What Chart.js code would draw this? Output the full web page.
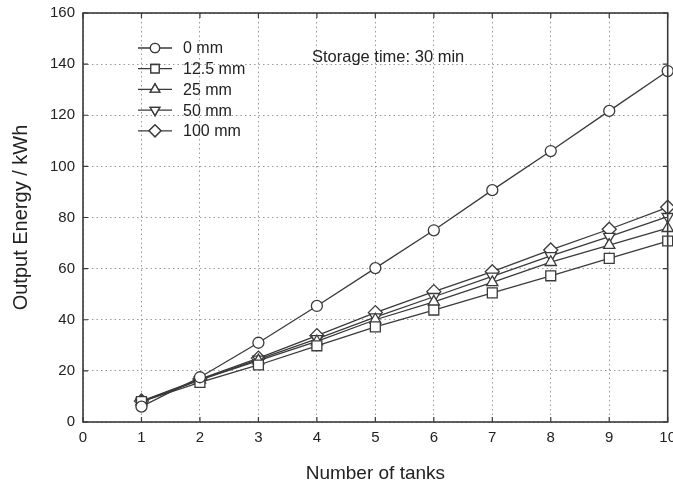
<!DOCTYPE html>
<html>
<head>
<meta charset="utf-8">
<script src="https://cdn.jsdelivr.net/npm/chart.js"></script>
<style>
  html, body { margin: 0; padding: 0; background: #fff; overflow: hidden; }
  /* canvas is a little wider than the frame so the "10" label runs off the edge, as in the original */
  #wrap { width: 673px; height: 487px; overflow: hidden; }
</style>
</head>
<body>
<div id="wrap"><canvas id="energy-chart" width="676" height="487"></canvas></div>
<script>
// ── data ──
const tanks = [1, 2, 3, 4, 5, 6, 7, 8, 9, 10];
const mm0 = [6, 17.5, 31, 45.4, 60.2, 75, 90.7, 106, 121.7, 137.3];
const mm12_5 = [8, 15.5, 22.3, 29.8, 37.2, 43.8, 50.5, 57.2, 64, 70.8];
const mm25 = [8, 16.5, 24, 31.5, 40, 47, 54.6, 62.5, 69.2, 75.8];
const mm50 = [8, 16.5, 24.5, 32.5, 41, 49, 57, 65, 72.5, 80.3];
const mm100 = [8.2, 16.8, 25, 33.8, 42.8, 51, 58.8, 67.3, 75.4, 84];

const seriesLabels = ['0 mm', '12.5 mm', '25 mm', '50 mm', '100 mm'];
const seriesValues = [mm0, mm12_5, mm25, mm50, mm100];
const markers = [
  { style: 'circle', rot: 0, r: 5.5 },
  { style: 'rect', rot: 0, r: 7 },
  { style: 'triangle', rot: 0, r: 6.5 },
  { style: 'triangle', rot: 180, r: 6.5 },
  { style: 'rectRot', rot: 0, r: 7 }
];
const note = 'Storage time: 30 min';

const INK = '#3a3a3a';
const FONT = '"Liberation Sans", Arial, sans-serif';

const datasets = seriesValues.map((vals, i) => ({
  label: seriesLabels[i],
  data: tanks.map((t, j) => ({ x: t, y: vals[j] })),
  borderColor: INK,
  borderWidth: 1.3,
  backgroundColor: '#fff',
  pointStyle: markers[i].style,
  rotation: markers[i].rot,
  pointRadius: markers[i].r,
  pointBorderWidth: 1.3,
  pointBorderColor: INK,
  pointBackgroundColor: '#fff',
  showLine: true,
  tension: 0,
  clip: false
}));

// frame on all four sides + inward tick marks
const framePlugin = {
  id: 'frame',
  afterDraw(chart) {
    const { ctx, chartArea: a, scales } = chart;
    ctx.save();
    ctx.strokeStyle = INK;
    ctx.lineWidth = 1.2;
    for (let v = 0; v <= 10; v++) {
      const x = scales.x.getPixelForValue(v);
      ctx.beginPath();
      ctx.moveTo(x, a.bottom); ctx.lineTo(x, a.bottom - 5);
      ctx.moveTo(x, a.top); ctx.lineTo(x, a.top + 5);
      ctx.stroke();
    }
    for (let v = 0; v <= 160; v += 20) {
      const y = scales.y.getPixelForValue(v);
      ctx.beginPath();
      ctx.moveTo(a.left, y); ctx.lineTo(a.left + 5, y);
      ctx.moveTo(a.right, y); ctx.lineTo(a.right - 5, y);
      ctx.stroke();
    }
    ctx.lineWidth = 1.6;
    ctx.strokeRect(a.left, a.top, a.right - a.left, a.bottom - a.top);
    ctx.restore();
  }
};

// legend in the upper left of the plot, plus the note
const legendPlugin = {
  id: 'insideLegend',
  afterDraw(chart) {
    const { ctx } = chart;
    ctx.save();
    ctx.font = '16px ' + FONT;
    ctx.textBaseline = 'middle';
    chart.data.datasets.forEach((ds, i) => {
      const y = 48 + i * 20.7;
      ctx.strokeStyle = INK;
      ctx.lineWidth = 1.3;
      ctx.beginPath();
      ctx.moveTo(138, y); ctx.lineTo(172, y);
      ctx.stroke();
      ctx.fillStyle = '#fff';
      Chart.helpers.drawPoint(ctx, {
        pointStyle: ds.pointStyle,
        rotation: ds.rotation,
        radius: ds.pointRadius * 0.85,
        borderWidth: 1.3
      }, 155, y);
      ctx.fill();
      ctx.stroke();
      ctx.fillStyle = '#222';
      ctx.fillText(ds.label, 183, y + 1);
    });
    ctx.font = '16.5px ' + FONT;
    ctx.fillText(note, 312, 57);
    ctx.restore();
  }
};

const chart = new Chart(document.getElementById('energy-chart'), {
  type: 'scatter',
  data: { datasets },
  options: {
    responsive: false,
    animation: false,
    layout: { padding: { left: 0, top: 13, right: 0, bottom: 0 } },
    plugins: { legend: { display: false }, tooltip: { enabled: false } },
    scales: {
      x: {
        type: 'linear',
        min: 0, max: 10,
        ticks: { stepSize: 1, color: '#222', font: { family: FONT, size: 15 }, padding: 7, maxRotation: 0 },
        grid: { color: '#9a9a9a', lineWidth: 1, drawTicks: false },
        border: { display: false, dash: [1.5, 3] },
        title: { display: true, text: 'Number of tanks', color: '#222', font: { family: FONT, size: 19 }, padding: { top: 10, bottom: 2 } },
        afterFit(scale) { scale.height = 65; scale.paddingLeft = 0; scale.paddingRight = 0; }
      },
      y: {
        min: 0, max: 160,
        ticks: { stepSize: 20, color: '#222', font: { family: FONT, size: 15 }, padding: 8 },
        grid: { color: '#9a9a9a', lineWidth: 1, drawTicks: false },
        border: { display: false, dash: [1.5, 3] },
        title: { display: true, text: 'Output Energy / kWh', color: '#222', font: { family: FONT, size: 20 }, padding: { top: 9, bottom: 4 } },
        afterFit(scale) { scale.width = 83; scale.paddingTop = 0; scale.paddingBottom = 0; }
      }
    }
  },
  plugins: [framePlugin, legendPlugin]
});
</script>
</body>
</html>
